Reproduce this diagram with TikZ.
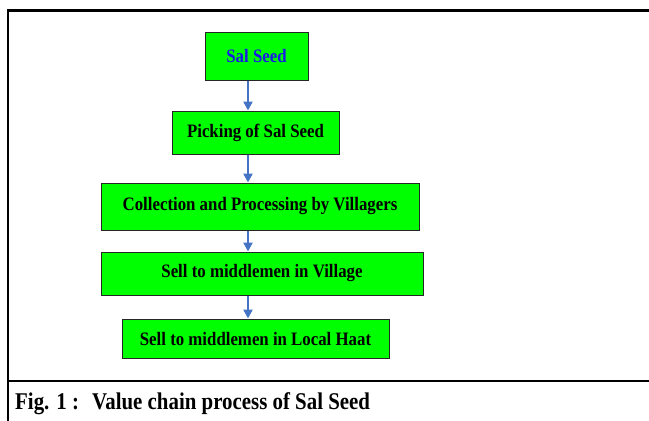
\documentclass[tikz,border=0pt]{standalone}
\usepackage{fontspec}
\usepackage{graphicx}
\setmainfont{Liberation Serif}
\usetikzlibrary{arrows.meta}
\definecolor{boxgreen}{HTML}{00FF00}
\definecolor{arrowblue}{HTML}{4472C4}
\definecolor{textblue}{HTML}{1A1AE6}
\newcommand{\narrowtext}[1]{\scalebox{0.885}[1]{#1}}
\newcommand{\narrowcap}[1]{\scalebox{0.87}[1]{#1}}
\begin{document}
\begin{tikzpicture}[x=1pt,y=-1pt,
  stagebox/.style={draw=black!85,line width=1pt,fill=boxgreen,inner sep=0pt,
    font=\bfseries\fontsize{19}{22}\selectfont},
  flowarrow/.style={draw=arrowblue,line width=2.6pt,-{Triangle[width=9pt,length=9pt]}},
  frameline/.style={line width=2.6pt,black},
  captext/.style={anchor=base west,inner sep=0pt,font=\bfseries\fontsize{24}{28}\selectfont}]
\useasboundingbox (0,0) rectangle (649,421);
\fill[white] (0,0) rectangle (649,421);
\node[stagebox,minimum width=103pt,minimum height=48pt,text=textblue] (sal) at (256.5,56) {\narrowtext{Sal Seed}};
\node[stagebox,minimum width=167pt,minimum height=43pt] (pick) at (255.5,132.5) {\narrowtext{Picking of Sal Seed}};
\node[stagebox,minimum width=318pt,minimum height=47pt] (coll) at (260,206.5) {\narrowtext{Collection and Processing by Villagers}};
\node[stagebox,minimum width=322pt,minimum height=43pt] (vill) at (262,273.5) {\narrowtext{Sell to middlemen in Village}};
\node[stagebox,minimum width=267pt,minimum height=39pt] (haat) at (255.5,338.5) {\narrowtext{Sell to middlemen in Local Haat}};
\coordinate (ax) at (248,0);
\draw[flowarrow] (sal.south -| ax) -- (pick.north -| ax);
\draw[flowarrow] (pick.south -| ax) -- (coll.north -| ax);
\draw[flowarrow] (coll.south -| ax) -- (vill.north -| ax);
\draw[flowarrow] (vill.south -| ax) -- (haat.north -| ax);
\draw[frameline] (649,10.5) -- (8,10.5) -- (8,421);
\draw[frameline] (8,381) -- (649,381);
\node[captext] (fig) at (15,409) {\narrowcap{Fig. 1 :}};
\node[captext] (cap) at (92,409) {\narrowcap{Value chain process of Sal Seed}};
\end{tikzpicture}
\end{document}
